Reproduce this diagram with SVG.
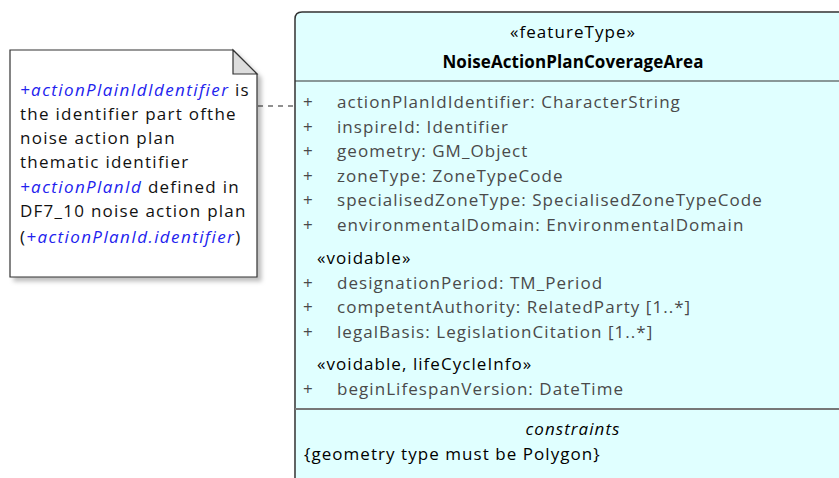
<svg xmlns="http://www.w3.org/2000/svg" width="839" height="478" viewBox="0 0 839 478">
<defs>
<style>
text{font-family:"Open Sans","Noto Sans",sans-serif;font-size:17px;letter-spacing:1.05px}
.attr{fill:#4a4a4a}
.st{fill:#000}
.b{font-weight:bold;fill:#000;letter-spacing:0.1px}
.it{font-style:italic;fill:#2222ee;letter-spacing:1.4px}
.nt{fill:#111;letter-spacing:1.25px}
.ln{stroke:#333;stroke-width:1.2;fill:none}
</style>
<filter id="sh" x="-10%" y="-10%" width="130%" height="130%"><feDropShadow dx="4" dy="4" stdDeviation="2" flood-color="#000" flood-opacity="0.25"/></filter>
</defs>
<rect width="839" height="478" fill="#fff"/>
<g id="connectors">
<line x1="258" y1="106" x2="295" y2="106" stroke="#222" stroke-width="1.2" stroke-dasharray="5,5"/>
</g>
<g id="note">
<path d="M10,50 H233 L257,74 V277 H10 Z" fill="#fff" stroke="#333" stroke-width="1.2" filter="url(#sh)"/>
<path d="M233,50 V74 H257 Z" fill="#ddd" stroke="#333" stroke-width="1.2"/>
<text x="20" y="96"><tspan class="it">+actionPlainIdIdentifier</tspan><tspan class="nt"> is</tspan></text>
<text x="20" y="120" class="nt">the identifier part ofthe</text>
<text x="20" y="144" class="nt">noise action plan</text>
<text x="20" y="168" class="nt">thematic identifier</text>
<text x="20" y="193"><tspan class="it">+actionPlanId</tspan><tspan class="nt"> defined in</tspan></text>
<text x="20" y="217" class="nt">DF7_10 noise action plan</text>
<text x="20" y="243"><tspan class="nt">(</tspan><tspan class="it">+actionPlanId.identifier</tspan><tspan class="nt">)</tspan></text>
</g>
<g id="class">
<path d="M852,12 H302 Q295,12 295,19 V490 H852 Z" fill="#e0ffff" stroke="#333" stroke-width="1.5" filter="url(#sh)"/>
<line x1="295" y1="81" x2="852" y2="81" class="ln"/>
<line x1="295" y1="409" x2="852" y2="409" stroke="#777" stroke-width="2"/>
<text x="573" y="38" text-anchor="middle" class="st">«featureType»</text>
<text x="573" y="68" text-anchor="middle" class="b">NoiseActionPlanCoverageArea</text>
<g class="attr">
<text x="303" y="108">+</text><text x="337" y="108">actionPlanIdIdentifier: CharacterString</text>
<text x="303" y="132.5">+</text><text x="337" y="132.5">inspireId: Identifier</text>
<text x="303" y="157">+</text><text x="337" y="157">geometry: GM_Object</text>
<text x="303" y="181.5">+</text><text x="337" y="181.5">zoneType: ZoneTypeCode</text>
<text x="303" y="206">+</text><text x="337" y="206">specialisedZoneType: SpecialisedZoneTypeCode</text>
<text x="303" y="230.5">+</text><text x="337" y="230.5">environmentalDomain: EnvironmentalDomain</text>
<text x="317" y="264" class="st">«voidable»</text>
<text x="303" y="289">+</text><text x="337" y="289">designationPeriod: TM_Period</text>
<text x="303" y="313">+</text><text x="337" y="313">competentAuthority: RelatedParty [1..*]</text>
<text x="303" y="338">+</text><text x="337" y="338">legalBasis: LegislationCitation [1..*]</text>
<text x="317" y="370" class="st">«voidable, lifeCycleInfo»</text>
<text x="303" y="395">+</text><text x="337" y="395">beginLifespanVersion: DateTime</text>
</g>
<text x="573" y="435" text-anchor="middle" class="st" font-style="italic">constraints</text>
<text x="304" y="460" class="st">{geometry type must be Polygon}</text>
</g>
</svg>
